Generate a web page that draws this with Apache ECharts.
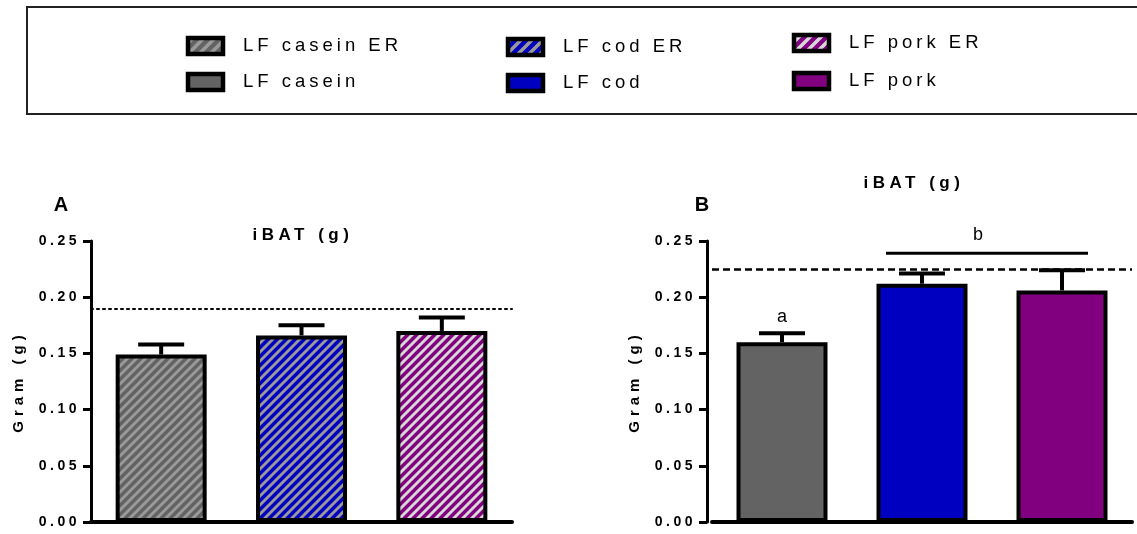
<!DOCTYPE html>
<html>
<head>
<meta charset="utf-8">
<script src="https://cdn.jsdelivr.net/npm/echarts@6/dist/echarts.min.js"></script>
<style>
  html, body { margin: 0; padding: 0; background: #fff; }
  #chart { width: 1137px; height: 534px; }
</style>
</head>
<body>
<div id="chart"></div>
<script>
// ---- data ----
const groups = ['LF casein', 'LF cod', 'LF pork'];
const legendER = ['LF casein ER', 'LF cod ER', 'LF pork ER'];
const legendFed = ['LF casein', 'LF cod', 'LF pork'];
// panel A: energy restricted (mean and mean + SEM)
const meanER = [0.149, 0.166, 0.170];
const upperER = [0.158, 0.175, 0.182];
// panel B: ad libitum (mean and mean + SEM)
const meanFed = [0.160, 0.212, 0.206];
const upperFed = [0.168, 0.221, 0.224];
// reference levels drawn across each panel
const refLineER = 0.19;
const refLineFed = 0.225;
// significance letters: first / last group covered, bracket level (null = above error bar)
const sigLabels = ['a', 'b'];
const sigFrom = [0, 1];
const sigTo = [0, 2];
const sigLevel = [null, 0.239];

// ---- GraphPad-like letter spacing, keyed on font size ----
const spacingBySize = { 'n18.5': 4, 'b17': 4.5, 'b14': 3.5, 'b15': 5 };
(function () {
  const proto = CanvasRenderingContext2D.prototype;
  const desc = Object.getOwnPropertyDescriptor(proto, 'font');
  if (!desc || !('letterSpacing' in proto)) return;
  Object.defineProperty(proto, 'font', {
    configurable: true,
    get() { return desc.get.call(this); },
    set(v) {
      desc.set.call(this, v);
      const m = /([\d.]+)px/.exec(v);
      const key = (/bold/.test(v) ? 'b' : 'n') + (m ? m[1] : '');
      this.letterSpacing = (spacingBySize[key] || 0) + 'px';
    }
  });
})();

// ---- fills ----
const solid = ['#636363', '#0000c0', '#800080'];
const stripe = ['#9a9a9a', '#9a9a9a', '#d8d8d8'];
// diagonal "/" stripes on a seamless p x p tile
function stripes(bg, fg, p) {
  const c = document.createElement('canvas');
  c.width = p; c.height = p;
  const g = c.getContext('2d');
  g.fillStyle = bg; g.fillRect(0, 0, p, p);
  g.strokeStyle = fg; g.lineWidth = p / Math.SQRT2 * 0.45;
  g.beginPath();
  for (const k of [0, p, 2 * p]) { g.moveTo(-2, k + 2); g.lineTo(k + 2, -2); }
  g.stroke();
  return { image: c, repeat: 'repeat' };
}
const hatch = solid.map((s, i) => stripes(s, stripe[i], 9));
const hatchLegend = solid.map((s, i) => stripes(s, stripe[i], 11));

const FONT = 'Liberation Sans';

function barData(values, fills) {
  return values.map((v, i) => ({ value: v, itemStyle: { color: fills[i] } }));
}
function errData(mean, upper) {
  return mean.map((m, i) => [i, m, upper[i]]);
}
function renderErr(params, api) {
  const top = api.coord([api.value(0), api.value(2)]);
  const base = api.coord([api.value(0), api.value(1)]);
  const half = 23;
  return {
    type: 'group',
    children: [
      { type: 'line', shape: { x1: top[0], y1: base[1], x2: top[0], y2: top[1] },
        style: { stroke: '#000', lineWidth: 4 } },
      { type: 'line', shape: { x1: top[0] - half, y1: top[1], x2: top[0] + half, y2: top[1] },
        style: { stroke: '#000', lineWidth: 4 } }
    ]
  };
}
function renderSig(params, api) {
  const i = params.dataIndex;
  const x1 = api.coord([sigFrom[i], 0])[0];
  const x2 = api.coord([sigTo[i], 0])[0];
  if (sigLevel[i] === null) {
    const y = api.coord([sigFrom[i], upperFed[sigFrom[i]]])[1];
    return { type: 'text', style: { text: sigLabels[i], x: x1, y: y - 16, align: 'center',
      verticalAlign: 'middle', font: 'normal 18px ' + FONT, fill: '#000' } };
  }
  const y = api.coord([sigFrom[i], sigLevel[i]])[1];
  const lx1 = x1 - 36, lx2 = x2 + 26;
  return {
    type: 'group',
    children: [
      { type: 'line', shape: { x1: lx1, y1: y, x2: lx2, y2: y }, style: { stroke: '#000', lineWidth: 3 } },
      { type: 'text', style: { text: sigLabels[i], x: (lx1 + lx2) / 2 - 9, y: y - 18, align: 'center',
        verticalAlign: 'middle', font: 'normal 18px ' + FONT, fill: '#000' } }
    ]
  };
}

function yAxisCfg(gridIndex, offset) {
  return {
    type: 'value', gridIndex, min: 0, max: 0.25, interval: 0.05, offset,
    name: 'Gram (g)', nameLocation: 'middle', nameGap: 62,
    nameTextStyle: { fontFamily: FONT, fontWeight: 'bold', fontSize: 15, color: '#000' },
    axisLine: { show: true, lineStyle: { color: '#000', width: 3 } },
    axisTick: { show: true, length: 8, lineStyle: { color: '#000', width: 3 } },
    axisLabel: { margin: 11, fontFamily: FONT, fontWeight: 'bold', fontSize: 14, color: '#000',
      formatter: v => v.toFixed(2) },
    splitLine: { show: false }
  };
}
function xAxisCfg(gridIndex) {
  return {
    type: 'category', gridIndex, data: groups,
    axisLine: { show: true, lineStyle: { color: '#000', width: 4 } },
    axisTick: { show: false }, axisLabel: { show: false }, splitLine: { show: false }
  };
}

// ---- legend (drawn) ----
const legIconX = [186, 506, 792];
const legTextX = [243, 563, 849];
const legRowY = [[46, 82], [47, 83], [43, 81]];
const legendGraphics = [
  { type: 'rect', shape: { x: 27, y: 7, width: 1200, height: 107 },
    style: { fill: 'none', stroke: '#222', lineWidth: 2 } }
];
for (let c = 0; c < 3; c++) {
  const rows = [[legendER[c], hatchLegend[c]], [legendFed[c], solid[c]]];
  rows.forEach(([label, fill], r) => {
    const cy = legRowY[c][r];
    legendGraphics.push({ type: 'rect', shape: { x: legIconX[c] + 2, y: cy - 8, width: 35, height: 16 },
      style: { fill, stroke: '#000', lineWidth: 4.5 } });
    legendGraphics.push({ type: 'text', style: { text: label, x: legTextX[c], y: cy, verticalAlign: 'middle',
      font: 'normal 18.5px ' + FONT, fill: '#000' } });
  });
}
const headings = [
  { type: 'text', style: { text: 'iBAT (g)', x: 303, y: 235, align: 'center', verticalAlign: 'middle',
    font: 'bold 17px ' + FONT, fill: '#000' } },
  { type: 'text', style: { text: 'iBAT (g)', x: 914, y: 183, align: 'center', verticalAlign: 'middle',
    font: 'bold 17px ' + FONT, fill: '#000' } },
  { type: 'text', style: { text: 'A', x: 61, y: 205, align: 'center', verticalAlign: 'middle',
    font: 'bold 20px ' + FONT, fill: '#000' } },
  { type: 'text', style: { text: 'B', x: 702, y: 205, align: 'center', verticalAlign: 'middle',
    font: 'bold 20px ' + FONT, fill: '#000' } }
];

const chart = echarts.init(document.getElementById('chart'), null, { renderer: 'canvas' });
chart.setOption({
  animation: false,
  backgroundColor: '#fff',
  grid: [
    { left: 91, top: 241, width: 421, height: 281 },
    { left: 712, top: 241, width: 420, height: 281 }
  ],
  xAxis: [xAxisCfg(0), xAxisCfg(1)],
  yAxis: [yAxisCfg(0, 0), yAxisCfg(1, 5)],
  graphic: legendGraphics.concat(headings),
  series: [
    {
      type: 'bar', xAxisIndex: 0, yAxisIndex: 0, barWidth: 91,
      data: barData(meanER, hatch),
      itemStyle: { borderColor: '#000', borderWidth: 4 },
      markLine: { silent: true, symbol: 'none', precision: 4, label: { show: false },
        lineStyle: { color: '#000', type: [2, 4], width: 2, cap: 'round' },
        data: [{ yAxis: refLineER }] }
    },
    { type: 'custom', xAxisIndex: 0, yAxisIndex: 0, renderItem: renderErr, data: errData(meanER, upperER), z: 3 },
    {
      type: 'bar', xAxisIndex: 1, yAxisIndex: 1, barWidth: 91,
      data: barData(meanFed, solid),
      itemStyle: { borderColor: '#000', borderWidth: 4 },
      markLine: { silent: true, symbol: 'none', precision: 4, label: { show: false },
        lineStyle: { color: '#000', type: [7, 4], width: 2.5 },
        data: [{ yAxis: refLineFed }] }
    },
    { type: 'custom', xAxisIndex: 1, yAxisIndex: 1, renderItem: renderErr, data: errData(meanFed, upperFed), z: 3 },
    { type: 'custom', xAxisIndex: 1, yAxisIndex: 1, renderItem: renderSig,
      data: sigLabels.map((s, i) => [sigFrom[i], sigLevel[i] === null ? upperFed[sigFrom[i]] : sigLevel[i]]), z: 4 }
  ]
});
</script>
</body>
</html>
